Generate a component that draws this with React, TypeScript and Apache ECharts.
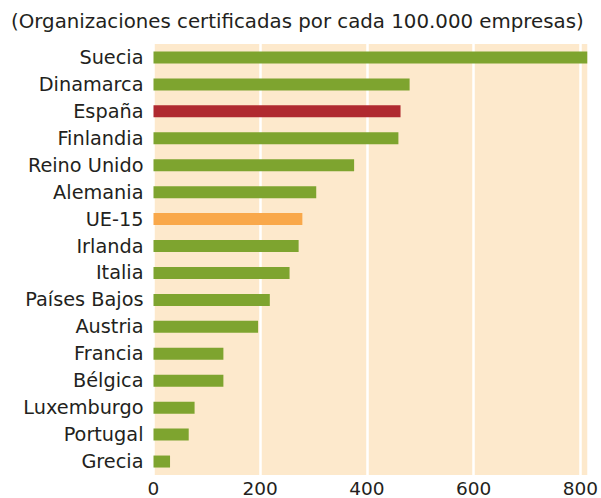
import React, { useEffect, useRef } from "react";
import * as echarts from "echarts";

const title = "(Organizaciones certificadas por cada 100.000 empresas)";
const categories = [
  "Suecia", "Dinamarca", "España", "Finlandia", "Reino Unido", "Alemania", "UE-15",
  "Irlanda", "Italia", "Países Bajos", "Austria", "Francia", "Bélgica", "Luxemburgo",
  "Portugal", "Grecia",
];
const values = [813, 480, 463, 459, 376, 305, 279, 272, 255, 218, 196, 131, 131, 77, 66, 31];
const xTicks = [0, 200, 400, 600, 800];

const GREEN = "#7ea42f";
const RED = "#b02a30";
const ORANGE = "#f9a84a";
const FONT = "'DejaVu Sans', sans-serif";

export default function App() {
  const ref = useRef<HTMLDivElement>(null);
  useEffect(() => {
    if (!ref.current) return;
    const chart = echarts.init(ref.current, null, { renderer: "svg" });
    chart.setOption({
      animation: false,
      backgroundColor: "#ffffff",
      title: {
        text: title,
        left: 6,
        top: 6,
        textStyle: { fontFamily: FONT, fontSize: 19.8, fontWeight: "normal", color: "#231f20" },
      },
      grid: {
        left: 153.5,
        right: 10,
        top: 44,
        bottom: 22,
        show: true,
        backgroundColor: "#fde9cc",
        borderWidth: 0,
      },
      xAxis: {
        type: "value",
        min: 0,
        max: 813,
        interval: 200,
        axisLine: { show: false },
        axisTick: { show: false },
        splitLine: { show: true, showMaxLine: false, lineStyle: { color: "#ffffff", width: 2.5 } },
        axisLabel: {
          showMaxLabel: false,
          margin: 4,
          fontFamily: FONT,
          fontSize: 18.5,
          color: "#231f20",
          formatter: (v: number) => (xTicks.includes(v) ? String(v) : ""),
        },
      },
      yAxis: {
        type: "category",
        data: categories,
        inverse: true,
        axisLine: { show: false },
        axisTick: { show: false },
        splitLine: { show: false },
        axisLabel: { margin: 10, fontFamily: FONT, fontSize: 19.3, color: "#231f20" },
      },
      series: [
        {
          type: "bar",
          data: values,
          barWidth: 12,
          itemStyle: {
            color: (p: any) => (p.name === "España" ? RED : p.name === "UE-15" ? ORANGE : GREEN),
          },
        },
      ],
    });
    return () => chart.dispose();
  }, []);
  return <div ref={ref} style={{ width: 601, height: 498, position: "absolute", left: 0, top: 0 }} />;
}
